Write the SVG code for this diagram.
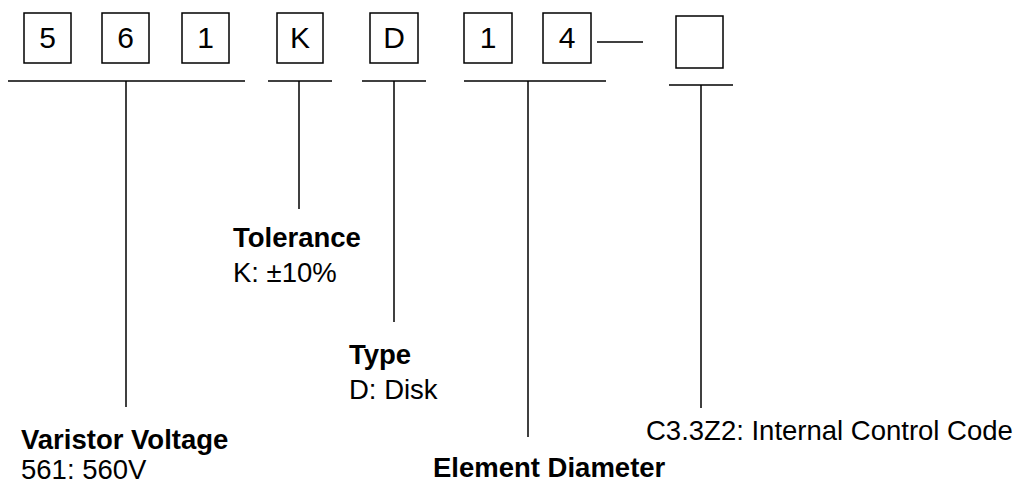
<svg xmlns="http://www.w3.org/2000/svg" width="1021" height="489" viewBox="0 0 1021 489">
<style>
.box{fill:#fff;stroke:#000;stroke-width:1.5}
.ln{stroke:#000;stroke-width:1.5;fill:none}
text{font-family:"Liberation Sans",Arial,sans-serif;font-size:27.5px;fill:#000}
.c{text-anchor:middle;font-size:30px}
.b{font-weight:bold}
</style>
<rect width="1021" height="489" fill="#fff"/>
<g id="box-5"><rect class="box" x="24" y="13" width="47" height="50"/><text class="c" x="47.5" y="48">5</text></g>
<g id="box-6"><rect class="box" x="102" y="13" width="47" height="50"/><text class="c" x="125.5" y="48">6</text></g>
<g id="box-1a"><rect class="box" x="182" y="13" width="47" height="50"/><text class="c" x="205.5" y="48">1</text></g>
<g id="box-K"><rect class="box" x="277" y="13" width="46" height="50"/><text class="c" x="300" y="48">K</text></g>
<g id="box-D"><rect class="box" x="370" y="13" width="48" height="50"/><text class="c" x="394" y="48">D</text></g>
<g id="box-1b"><rect class="box" x="464" y="13" width="48" height="50"/><text class="c" x="488" y="48">1</text></g>
<g id="box-4"><rect class="box" x="543" y="13" width="48" height="50"/><text class="c" x="567" y="48">4</text></g>
<g id="box-empty"><rect class="box" x="676" y="16" width="47" height="52"/></g>
<g id="connectors">
<line class="ln" x1="597" y1="42" x2="643" y2="42"/>
<line class="ln" x1="8" y1="81" x2="245" y2="81"/>
<line class="ln" x1="126" y1="81" x2="126" y2="407"/>
<line class="ln" x1="268" y1="81" x2="332" y2="81"/>
<line class="ln" x1="299" y1="81" x2="299" y2="209"/>
<line class="ln" x1="362" y1="81" x2="426" y2="81"/>
<line class="ln" x1="394" y1="81" x2="394" y2="322"/>
<line class="ln" x1="464" y1="81" x2="606" y2="81"/>
<line class="ln" x1="528" y1="81" x2="528" y2="437"/>
<line class="ln" x1="669" y1="85" x2="733" y2="85"/>
<line class="ln" x1="701" y1="85" x2="701" y2="408"/>
</g>
<g id="label-voltage"><text class="b" x="21" y="449">Varistor Voltage</text><text x="21" y="479">561: 560V</text></g>
<g id="label-tolerance"><text class="b" x="233" y="247">Tolerance</text><text x="233" y="282">K: ±10%</text></g>
<g id="label-type"><text class="b" x="349" y="364">Type</text><text x="349" y="399">D: Disk</text></g>
<g id="label-diameter"><text class="b" x="433" y="477">Element Diameter</text></g>
<g id="label-code"><text x="646" y="440">C3.3Z2: Internal Control Code</text></g>
</svg>
